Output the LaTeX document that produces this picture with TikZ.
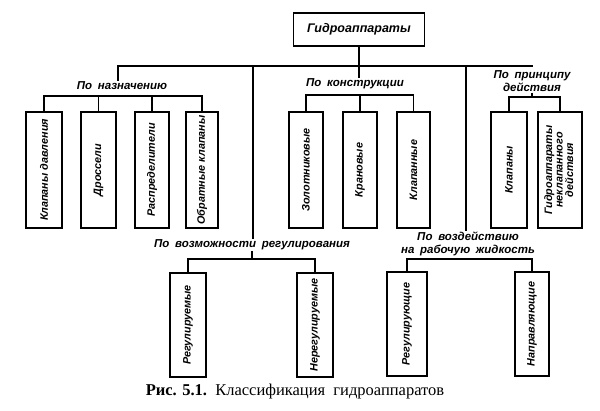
\documentclass[tikz,border=0pt]{standalone}
\usepackage{fontspec}
\setmainfont{Liberation Serif}
\newfontfamily\lblfont{Liberation Sans}
\begin{document}
\begin{tikzpicture}[x=1pt,y=-1pt,
  lw/.style={line width=1.6pt},
  lblf/.style={font=\lblfont\bfseries\itshape\fontsize{11.5}{13}\selectfont},
  box/.style={draw,line width=1.6pt,inner sep=0pt,minimum width=35pt,minimum height=116pt,font=\lblfont\bfseries\itshape\fontsize{10.8}{12.5}\selectfont},
  lowbox/.style={box,minimum height=104pt},
  lbl/.style={lblf,inner sep=1pt,align=center}]
\useasboundingbox (0,0) rectangle (600,411);
% top
\node[draw,line width=1.8pt,minimum width=131pt,minimum height=33pt,inner sep=0pt,font=\lblfont\bfseries\itshape\fontsize{12.5}{15}\selectfont] (top) at (359,29.5) {Гидроаппараты};
% labels
\node[lbl] (lblA) at (122,86) {По\enspace назначению};
\node[lbl] (lblC) at (355,84) {По\enspace конструкции};
\node[lbl] (lblE) at (532,81) {По\enspace принципу\\действия};
\node[lbl] (lblB) at (252,245) {По\enspace возможности\enspace регулирования};
\node[lbl] (lblD) at (468,244) {По\enspace воздействию\\на\enspace рабочую\enspace жидкость};
% first row boxes
\node[box,minimum width=36pt] (b1) at (44,170) {\rotatebox{90}{Клапаны давления}};
\node[box] (b2) at (98.5,170) {\rotatebox{90}{Дроссели}};
\node[box,minimum width=34pt] (b3) at (152,170) {\rotatebox{90}{Распределители}};
\node[box,minimum width=32pt] (b4) at (202,170) {\rotatebox{90}{Обратные клапаны}};
\node[box,minimum width=34pt] (b5) at (306,170) {\rotatebox{90}{Золотниковые}};
\node[box,minimum width=34pt] (b6) at (360,170) {\rotatebox{90}{Крановые}};
\node[box,minimum width=33pt] (b7) at (413.5,170) {\rotatebox{90}{Клапанные}};
\node[box,minimum width=36pt] (b8) at (509,170) {\rotatebox{90}{Клапаны}};
\node[box,minimum width=44pt] (b9) at (560,170) {\rotatebox{90}{\begin{tabular}{@{}c@{}}Гидроаппараты\\[-2pt]неклапанного\\[-2pt]действия\end{tabular}}};
% second row boxes
\node[lowbox,minimum width=36pt] (c1) at (188,325) {\rotatebox{90}{Регулируемые}};
\node[lowbox,minimum width=36pt] (c2) at (315,325) {\rotatebox{90}{Нерегулируемые}};
\node[lowbox,minimum width=40pt] (c3) at (407,324) {\rotatebox{90}{Регулирующие}};
\node[lowbox,minimum width=34pt] (c4) at (532,324) {\rotatebox{90}{Направляющие}};
% caption
\node[font=\fontsize{16.5}{18}\selectfont,inner sep=0pt] (cap) at (295,392) {\textbf{Рис. 5.1.}\enspace Классификация\enspace гидроаппаратов};
% main bus
\coordinate (mbL) at (118,66);
\coordinate (mbB) at (253,66);
\coordinate (mbD) at (466,66);
\coordinate (mbR) at (533,66);
\draw[lw] (mbL |- lblA.north) -- (mbL) -- (mbR);
\draw[lw] (top.south) -- (top.south |- lblC.north);
\draw[lw] (mbB) -- (mbB |- lblB.north);
\draw[lw] (mbD) -- (mbD |- lblD.north);
% sub-buses
\coordinate (sA) at (0,96);
\coordinate (sC) at (0,95);
\coordinate (sE) at (0,97);
\coordinate (sB) at (0,259);
\coordinate (sD) at (0,259);
\draw[lw] (b1.north) |- (b4.north |- sA) -- (b4.north);
\draw[lw] (b2.north) -- (b2.north |- sA);
\draw[lw] (b3.north) -- (b3.north |- sA);
\draw[lw] (b5.north) |- (b7.north |- sC) -- (b7.north);
\draw[lw] (b6.north) -- (b6.north |- sC);
\draw[lw] (b8.north) |- (b9.north |- sE) -- (b9.north);
\draw[lw] (lblE.south) -- (lblE.south |- sE);
\draw[lw] (c1.north) |- (c2.north |- sB) -- (c2.north);
\draw[lw] (lblB.south) -- (lblB.south |- sB);
\draw[lw] (c3.north) |- (c4.north |- sD) -- (c4.north);
\end{tikzpicture}
\end{document}
